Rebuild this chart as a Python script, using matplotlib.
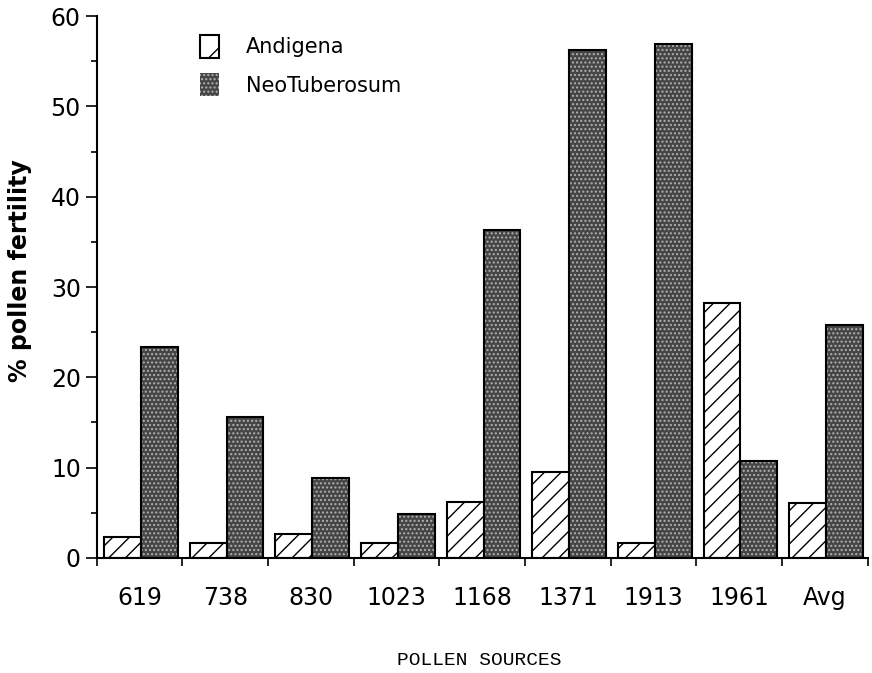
"""Pollen fertility of Andigena vs NeoTuberosum across pollen sources."""

import matplotlib

matplotlib.use("Agg")
import matplotlib.pyplot as plt
import numpy as np
from matplotlib.patches import Patch

plt.rcParams["font.family"] = ["Liberation Sans Narrow", "DejaVu Sans"]
plt.rcParams["hatch.linewidth"] = 1.0

sources = ["619", "738", "830", "1023", "1168", "1371", "1913", "1961", "Avg"]
andigena = [2.3, 1.6, 2.7, 1.6, 6.2, 9.5, 1.6, 28.2, 6.1]
neotuberosum = [23.4, 15.6, 8.8, 4.9, 36.3, 56.2, 56.9, 10.7, 25.8]

fig = plt.figure(figsize=(8.72, 6.73), dpi=100)
ax = fig.add_axes([0.111, 0.171, 0.884, 0.805])

x = np.arange(len(sources))
width = 0.43

# Andigena: white with diagonal hatch
ax.bar(x + 0.085, andigena, width, align="edge", facecolor="white",
       edgecolor="black", hatch="//", linewidth=1.5, zorder=2)

# NeoTuberosum: dark stippled fill, hatch drawn in light grey, then outline
ax.bar(x + 0.085 + width, neotuberosum, width, align="edge", facecolor="#454545",
       edgecolor="#b0b0b0", hatch="....", linewidth=0, zorder=2)
ax.bar(x + 0.085 + width, neotuberosum, width, align="edge", fill=False,
       edgecolor="black", linewidth=1.5, zorder=3)

ax.set_xlim(0, len(sources))
ax.set_ylim(0, 60)
ax.set_xticks(np.arange(len(sources) + 1))
ax.set_xticklabels([])
ax.set_xticks(x + 0.5, minor=True)
ax.set_xticklabels(sources, minor=True)
ax.tick_params(axis="x", which="major", length=6, width=1.2, direction="out")
ax.tick_params(axis="x", which="minor", length=0, labelsize=17, pad=20)
ax.set_yticks(np.arange(0, 61, 10))
ax.set_yticks(np.arange(5, 60, 10), minor=True)
ax.tick_params(axis="y", which="major", length=8, width=1.2, labelsize=17)
ax.tick_params(axis="y", which="minor", length=4, width=1.2)

for side in ("top", "right"):
    ax.spines[side].set_visible(False)
for side in ("left", "bottom"):
    ax.spines[side].set_linewidth(1.5)

ax.set_ylabel("% pollen fertility", fontsize=17, fontweight="bold")
ax.yaxis.set_label_coords(-0.084, 0.53)
fig.text(0.55, 0.018, "POLLEN SOURCES", ha="center", va="center", fontsize=14,
         family=["Liberation Mono", "DejaVu Sans Mono"])

handles = [
    Patch(facecolor="white", edgecolor="black", hatch="/", linewidth=1.5),
    Patch(facecolor="#454545", edgecolor="#b0b0b0", hatch="....", linewidth=0),
]
ax.legend(handles, ["Andigena", "NeoTuberosum"], loc="upper left",
          bbox_to_anchor=(0.11, 1.0), frameon=False, fontsize=15,
          handlelength=0.9, handleheight=1.3, handletextpad=1.3, labelspacing=0.75)

fig.savefig("out.png", dpi=100)
